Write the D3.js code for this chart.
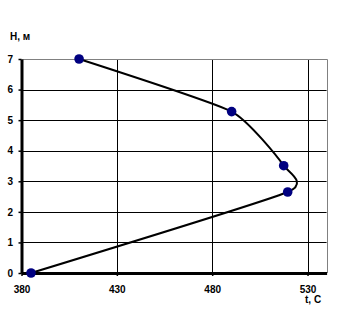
<!DOCTYPE html>
<html>
<head>
<meta charset="utf-8">
<script src="https://cdn.jsdelivr.net/npm/d3@7"></script>
<style>
  body { margin: 0; background: #fff; }
  text { font-family: "Liberation Sans", Arial, sans-serif; font-size: 10px; font-weight: bold; fill: #000; }
</style>
</head>
<body>
<div id="chart"></div>
<script>
// temperature (t, C) against height (H, m)
const tempValues = [385.0, 519.6, 517.5, 490.2, 410.2];
const heightValues = [0, 2.65, 3.51, 5.28, 7];
const xTicks = [380, 430, 480, 530];
const yTicks = [0, 1, 2, 3, 4, 5, 6, 7];
const xLabel = "t, C";
const yLabel = "H, м";

const W = 343, H = 317;
const PLOT = Object.freeze({ left: 21.5, right: 326.6, top: 59, bottom: 273 });

const svg = d3.select("#chart").append("svg").attr("width", W).attr("height", H);

const x = d3.scaleLinear().domain([380, 540]).range([PLOT.left, PLOT.right]);
const y = d3.scaleLinear().domain([0, 7]).range([PLOT.bottom, PLOT.top]);

const points = tempValues.map((t, i) => ({ t, h: heightValues[i] }));

// grid lines
svg.append("g")
  .selectAll("line")
  .data(yTicks.filter((d) => d > 0 && d < 7))
  .enter()
  .append("line")
  .attr("x1", PLOT.left).attr("x2", PLOT.right)
  .attr("y1", (d) => Math.round(y(d)) + 0.5).attr("y2", (d) => Math.round(y(d)) + 0.5)
  .attr("stroke", "#000").attr("stroke-width", 1);

svg.append("g")
  .selectAll("line")
  .data(xTicks.filter((d) => d > 380))
  .enter()
  .append("line")
  .attr("x1", (d) => Math.round(x(d)) + 0.5).attr("x2", (d) => Math.round(x(d)) + 0.5)
  .attr("y1", PLOT.top).attr("y2", PLOT.bottom)
  .attr("stroke", "#000").attr("stroke-width", 1);

// grey frame on top and right
svg.append("path")
  .attr("d", `M${PLOT.left},${PLOT.top + 0.5}H${Math.round(PLOT.right) + 0.5}V${PLOT.bottom}`)
  .attr("fill", "none")
  .attr("stroke", "#808080")
  .attr("stroke-width", 1);

// axes
const xAxis = svg.append("g")
  .attr("transform", `translate(0,${PLOT.bottom})`)
  .call(d3.axisBottom(x).tickValues(xTicks).tickFormat(d3.format("d"))
    .tickSize(3).tickPadding(9.4).tickSizeOuter(0));
const yAxis = svg.append("g")
  .attr("transform", `translate(${PLOT.left},0)`)
  .call(d3.axisLeft(y).tickValues(yTicks).tickFormat(d3.format("d"))
    .tickSize(3).tickPadding(5.5).tickSizeOuter(0));

[xAxis, yAxis].forEach((ax) => {
  ax.select(".domain").attr("stroke", "#000").attr("stroke-width", 3);
  ax.selectAll(".tick line").attr("stroke", "#000").attr("stroke-width", 1.5);
  ax.selectAll(".tick text")
    .style("font-family", "'Liberation Sans', Arial, sans-serif")
    .style("font-size", "10px")
    .style("font-weight", "bold")
    .attr("fill", "#000");
});

// smoothed line
const line = d3.line()
  .x((d) => x(d.t))
  .y((d) => y(d.h))
  .curve(d3.curveCardinal.tension(0.5));

svg.append("path")
  .datum(points)
  .attr("d", line)
  .attr("fill", "none")
  .attr("stroke", "#000")
  .attr("stroke-width", 2);

// markers
svg.append("g")
  .selectAll("circle")
  .data(points)
  .enter()
  .append("circle")
  .attr("cx", (d) => x(d.t))
  .attr("cy", (d) => y(d.h))
  .attr("r", 4.8)
  .attr("fill", "#000080");

// axis titles
svg.append("text").attr("x", 10).attr("y", 40).text(yLabel);
svg.append("text").attr("x", 305).attr("y", 302.5).text(xLabel);
</script>
</body>
</html>
